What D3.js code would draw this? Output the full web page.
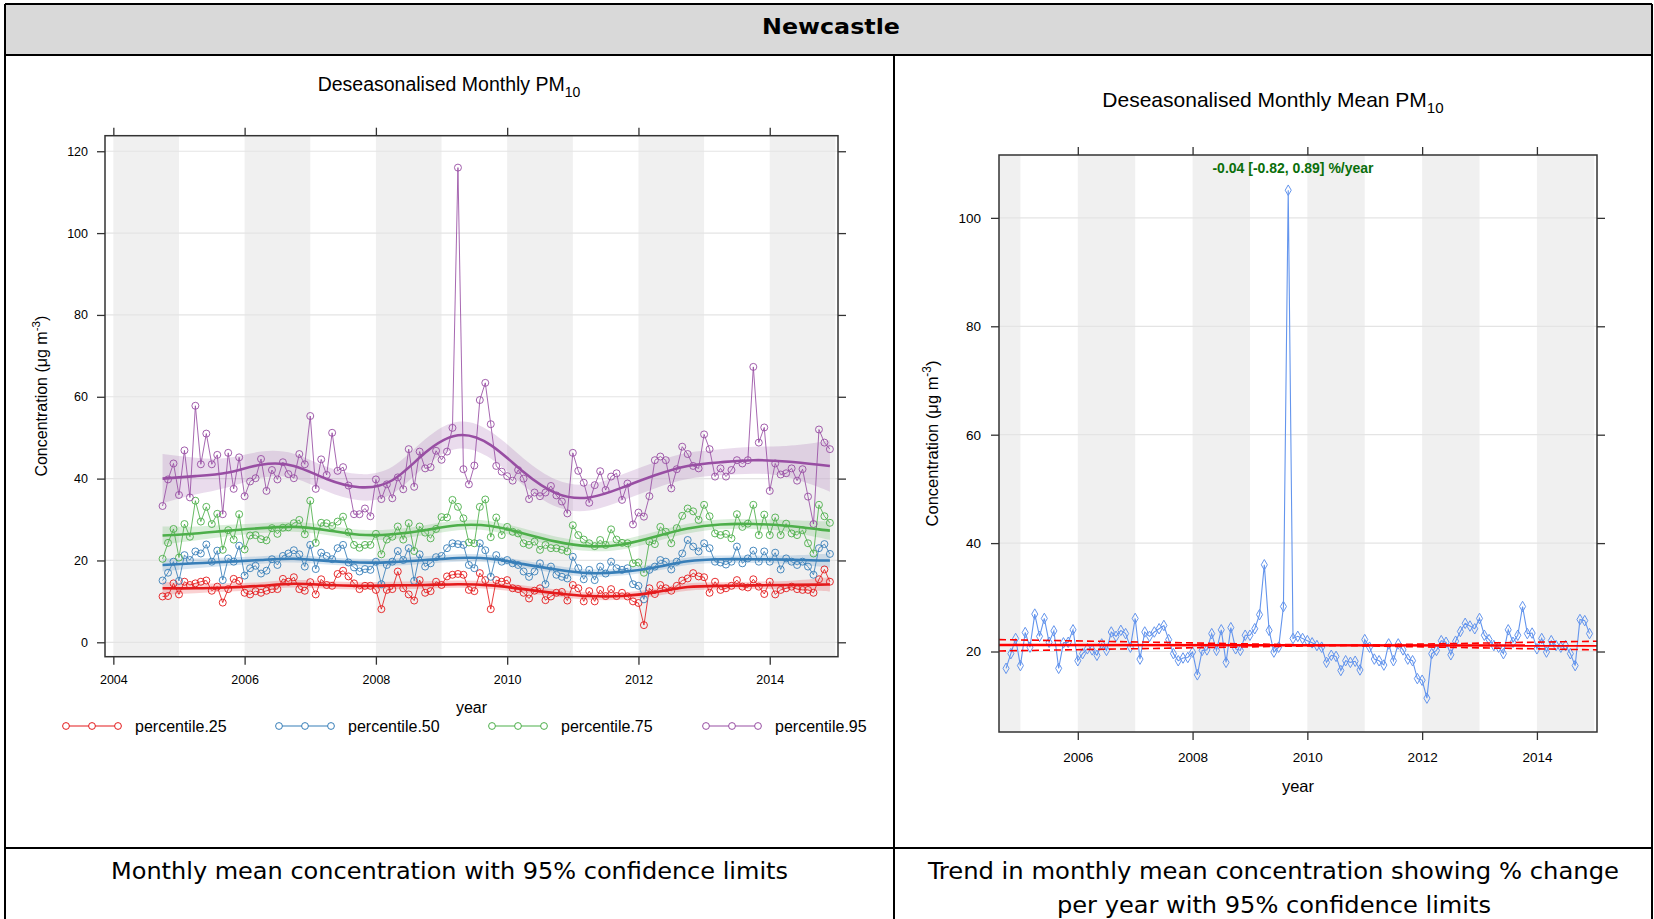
<!DOCTYPE html>
<html><head><meta charset="utf-8">
<script src="https://cdn.jsdelivr.net/npm/d3@7"></script>
<style>body{margin:0;background:#fff}svg{display:block}</style>
</head><body>
<svg id="c" width="1654" height="919"></svg>
<script>
// ---------------- data ----------------
const firstYear = 2004, firstMonth = 10;   // first monthly value: Oct 2004
const seriesNames = ["percentile.25","percentile.50","percentile.75","percentile.95"];
const seriesColors = ["#E41A1C","#377EB8","#4DAF4A","#984EA3"];

const p25 = [11.2,11.3,14.4,11.7,14.8,14.0,14.4,14.8,15.1,12.6,13.6,9.7,13.0,15.5,15.0,12.1,11.7,12.5,12.1,12.6,
13.0,13.0,15.5,14.8,15.9,13.0,12.6,14.7,11.7,15.4,14.0,13.8,16.7,17.5,16.1,14.4,13.0,13.8,13.8,12.8,
8.1,12.8,13.0,17.3,13.2,11.7,10.2,15.2,12.1,12.5,14.8,14.0,16.1,16.5,16.7,16.5,12.8,12.5,16.9,15.2,
8.1,15.2,14.8,15.2,13.2,13.0,12.1,10.7,12.6,13.2,10.3,11.2,12.1,12.3,10.2,14.0,13.2,10.0,12.5,10.0,
12.8,11.3,13.0,11.3,12.1,11.2,10.0,9.6,4.2,13.2,11.8,14.0,13.2,12.6,13.8,15.1,15.6,16.9,16.1,15.9,
12.1,14.8,12.8,13.2,13.8,15.2,13.6,13.4,15.4,13.6,11.8,14.8,11.7,12.8,13.2,13.6,13.0,12.8,12.8,12.1,
15.4,17.8,14.8];
const p50 = [15.1,17.0,19.7,15.0,21.3,20.1,22.2,21.7,23.9,19.7,22.4,15.2,20.5,19.7,23.6,16.3,18.1,18.7,16.8,17.5,
20.3,18.9,21.1,21.7,22.5,21.5,18.5,23.8,17.9,21.9,21.1,20.3,23.0,23.8,19.5,18.3,17.3,17.9,17.7,19.7,
14.2,18.9,19.7,22.3,20.1,23.0,15.0,21.5,18.5,19.3,20.8,21.1,23.0,24.2,24.0,23.8,18.9,18.1,24.2,22.5,
16.0,21.3,19.7,20.1,19.3,18.9,17.3,16.0,17.3,19.3,14.2,18.5,16.5,16.0,15.6,20.9,18.1,15.4,17.7,15.2,
18.5,16.8,19.7,18.1,17.7,18.1,14.2,13.8,10.5,17.7,18.5,20.1,19.7,17.8,19.7,21.7,25.0,23.4,22.2,24.2,
23.0,19.7,19.5,19.0,19.7,23.4,19.3,20.5,22.4,19.7,22.2,19.7,21.9,17.8,20.5,19.7,18.9,19.7,18.5,16.5,
23.0,24.0,21.6];
const p75 = [20.4,24.3,27.7,20.7,28.9,25.8,34.6,29.5,33.1,28.9,31.4,22.6,27.4,25.1,31.3,22.7,26.1,26.2,25.2,24.9,
27.9,26.5,28.0,28.1,29.1,29.9,26.4,34.6,24.3,29.2,29.1,28.4,29.5,30.7,26.9,23.8,23.1,23.8,23.8,26.5,
21.5,25.1,25.8,28.3,25.1,29.1,22.3,28.3,26.8,25.4,27.7,30.6,30.5,34.8,33.1,30.3,24.4,24.2,33.1,34.9,
25.7,30.5,26.2,28.2,27.0,26.6,24.2,23.8,24.6,22.6,23.8,23.0,23.0,22.6,22.2,28.6,26.2,25.1,24.2,23.5,
25.0,23.8,27.6,25.1,24.3,24.2,19.3,19.5,17.0,24.6,24.0,28.2,27.0,24.2,27.9,30.9,32.7,32.0,29.9,33.6,
30.8,26.6,26.2,26.5,25.4,31.3,28.2,29.0,33.6,26.2,31.2,26.2,30.5,26.2,29.0,26.6,26.2,27.4,24.2,21.7,
33.6,30.8,29.2];
const p95 = [33.3,39.8,43.7,36.0,46.9,35.4,57.8,43.5,51.0,43.5,45.8,31.3,46.3,37.5,45.2,35.7,39.3,40.1,44.8,37.0,
42.1,39.8,44.0,41.1,40.1,46.0,43.5,55.3,37.5,44.7,40.9,51.2,41.9,42.8,38.3,31.3,31.3,32.7,30.8,39.8,
35.0,38.6,35.2,40.3,37.4,47.2,38.0,46.6,42.5,42.8,46.8,44.6,46.6,52.4,116.0,42.3,38.6,43.2,59.2,63.4,
53.3,43.1,41.7,40.6,39.5,42.1,40.0,35.0,36.6,35.7,36.6,38.2,35.9,34.4,31.5,46.3,41.9,39.0,34.1,38.4,
41.8,37.2,40.5,41.3,34.8,38.8,28.8,31.7,30.7,35.7,44.5,45.4,44.5,37.6,42.3,47.8,46.0,43.1,42.5,50.8,
47.2,40.5,42.5,40.5,42.1,44.5,43.7,44.5,67.3,48.8,52.5,37.0,43.7,41.0,41.3,42.5,39.5,42.3,35.6,28.9,
52.0,48.8,47.2];

// smooth fits (value at month index) and half-width of 95% band
const smoothIdx = [0,6,12,18,24,30,36,42,48,54,60,66,72,78,84,90,96,102,108,114,120,122];
const p25Smooth = [13.2,13.2,13.4,13.8,14.3,14.0,13.8,13.9,14.0,14.2,13.9,13.0,12.0,11.3,11.3,12.2,13.5,13.8,13.9,14.0,14.1,14.2];
const p50Smooth = [18.9,19.3,19.7,20.1,20.4,19.9,19.5,19.6,20.1,20.6,20.4,19.1,17.8,16.9,17.2,18.3,19.8,20.3,20.3,20.2,20.0,20.0];
const p75Smooth = [26.1,26.6,27.3,27.9,28.2,27.4,26.3,26.4,27.4,28.6,28.4,26.6,24.6,23.5,23.9,25.8,27.8,28.8,28.9,28.5,27.6,27.3];
const p95Smooth = [40.0,40.6,41.5,43.4,43.1,39.9,37.9,39.6,46.3,50.6,48.2,41.6,36.4,35.4,37.8,40.8,43.1,44.0,44.5,44.2,43.4,43.1];
const p25Band = [1.6,1.2,1.0,0.9,0.9,0.9,0.9,0.9,0.9,0.9,0.9,0.9,0.9,0.9,0.9,0.9,0.9,0.9,0.9,1.0,1.5,1.8];
const p50Band = [1.6,1.2,1.0,0.9,0.9,0.9,0.9,0.9,0.9,0.9,0.9,0.9,0.9,0.9,0.9,0.9,0.9,0.9,0.9,1.0,1.5,1.8];
const p75Band = [2.2,1.7,1.4,1.2,1.2,1.2,1.2,1.2,1.2,1.2,1.2,1.2,1.2,1.2,1.2,1.2,1.2,1.2,1.2,1.4,2.0,2.3];
const p95Band = [6.0,4.5,3.6,3.2,3.0,3.0,3.2,3.3,3.3,3.3,3.3,3.3,3.3,3.2,3.2,3.2,3.2,3.2,3.3,3.8,5.5,6.3];

// deseasonalised monthly mean (right panel)
const meanPM10 = [16.9,19.6,22.4,17.4,23.5,20.8,26.9,22.8,26.1,21.7,23.8,16.9,21.6,21.7,24.0,18.3,19.6,20.5,20.3,19.3,
21.4,20.2,23.6,22.8,23.9,23.3,20.8,26.1,18.6,23.6,22.8,23.6,24.2,24.8,22.2,19.6,18.3,18.8,18.9,19.9,
15.7,20.2,20.3,23.3,20.2,24.0,18.0,24.4,20.5,20.2,23.0,23.0,24.2,26.8,36.0,23.9,19.9,20.8,28.3,105.1,
22.4,22.8,22.4,22.0,21.6,21.1,20.8,18.0,19.3,19.1,16.5,18.3,18.0,18.2,16.6,22.2,20.8,18.6,18.3,17.5,
21.4,18.3,21.4,20.3,18.6,18.3,15.0,14.7,11.4,19.6,20.2,22.0,21.7,19.4,21.9,23.7,25.2,24.7,24.2,26.1,
23.0,22.2,21.1,20.8,19.6,24.0,21.7,23.0,28.3,23.3,23.4,20.5,22.4,19.9,22.0,21.1,20.8,21.1,19.6,17.4,
25.9,25.7,23.3];
// Theil-Sen trend line and 95% limits at the panel ends
const trendYears = [2004.627, 2015.047];
const trendMid   = [21.2, 21.1];
const trendCiA   = [22.2, 20.3];
const trendCiB   = [20.1, 21.9];
const trendLabel = "-0.04 [-0.82, 0.89] %/year";

const yearTicks = [2004,2006,2008,2010,2012,2014];
const yearTicksR = [2006,2008,2010,2012,2014];
const concTicksL = [0,20,40,60,80,100,120];
const concTicksR = [20,40,60,80,100];

const headerText = "Newcastle";
const captionL = "Monthly mean concentration with 95% confidence limits";
const captionR1 = "Trend in monthly mean concentration showing % change";
const captionR2 = "per year with 95% confidence limits";

// ---------------- drawing ----------------
const svg = d3.select("#c");
const tOf = i => firstYear + (firstMonth - 1) / 12 + i / 12;
const AX = "#333";
const FONT = "'Liberation Sans', Arial, sans-serif";
const VFONT = "'DejaVu Sans', Verdana, sans-serif";
const CFONT = "'DejaVu Sans Condensed', 'DejaVu Sans', Verdana, sans-serif";

// table frame
svg.append("rect").attr("x",5).attr("y",4).attr("width",1647).attr("height",51).attr("fill","#d9d9d9");
const frame = svg.append("g").attr("stroke","#000").attr("stroke-width",2);
[[5,4,1652,4],[5,55,1652,55],[5,848,1652,848],[5,4,5,919],[1652,4,1652,919],[894,55,894,919]]
  .forEach(d => frame.append("line").attr("x1",d[0]).attr("y1",d[1]).attr("x2",d[2]).attr("y2",d[3]));

svg.append("text").attr("x",831).attr("y",34).attr("text-anchor","middle")
  .attr("font-family",VFONT).attr("font-weight","bold").attr("font-size",22)
  .attr("textLength",138).attr("lengthAdjust","spacingAndGlyphs").text(headerText);
svg.append("text").attr("x",449.5).attr("y",879).attr("text-anchor","middle")
  .attr("font-family",CFONT).attr("font-size",23).attr("textLength",677).attr("lengthAdjust","spacingAndGlyphs").text(captionL);
svg.append("text").attr("x",1273.5).attr("y",879).attr("text-anchor","middle")
  .attr("font-family",CFONT).attr("font-size",23).attr("textLength",691).attr("lengthAdjust","spacingAndGlyphs").text(captionR1);
svg.append("text").attr("x",1274).attr("y",913).attr("text-anchor","middle")
  .attr("font-family",CFONT).attr("font-size",23).attr("textLength",434).attr("lengthAdjust","spacingAndGlyphs").text(captionR2);

function panel(o) {
  const x = d3.scaleLinear().domain(o.xdom).range([o.x0, o.x1]);
  const y = d3.scaleLinear().domain(o.ydom).range([o.y1, o.y0]);
  const g = svg.append("g");
  const clipId = "clip" + o.id;
  svg.append("clipPath").attr("id", clipId).append("rect")
    .attr("x", o.x0).attr("y", o.y0).attr("width", o.x1 - o.x0).attr("height", o.y1 - o.y0);
  const inner = g.append("g").attr("clip-path", `url(#${clipId})`);
  // alternate year bands
  d3.range(2004, 2016, 2).forEach(yr => {
    inner.append("rect").attr("x", x(yr)).attr("y", o.y0).attr("width", x(yr + 1) - x(yr))
      .attr("height", o.y1 - o.y0).attr("fill", "#f0f0f0");
  });
  // horizontal grid
  o.yticks.forEach(v => inner.append("line").attr("x1", o.x0).attr("x2", o.x1)
    .attr("y1", y(v)).attr("y2", y(v)).attr("stroke", "#e4e4e4").attr("stroke-width", 1.2));
  // axes
  const mk = (ax, tr) => g.append("g").attr("transform", tr).call(ax)
    .call(s => s.select(".domain").remove())
    .call(s => s.selectAll("line").attr("stroke", AX).attr("stroke-width", 1.3))
    .call(s => s.selectAll("text").attr("font-family", FONT).attr("font-size", o.tickFont).attr("fill", "#000"));
  mk(d3.axisLeft(y).tickValues(o.yticks).tickSize(8).tickPadding(o.ypad).tickFormat(d3.format("d")), `translate(${o.x0},0)`);
  mk(d3.axisRight(y).tickValues(o.yticks).tickSize(8).tickFormat(""), `translate(${o.x1},0)`);
  mk(d3.axisBottom(x).tickValues(o.xticks).tickSize(8).tickPadding(o.xpad).tickFormat(d3.format("d")), `translate(0,${o.y1})`);
  mk(d3.axisTop(x).tickValues(o.xticks).tickSize(8).tickFormat(""), `translate(0,${o.y0})`);
  g.append("rect").attr("x", o.x0).attr("y", o.y0).attr("width", o.x1 - o.x0).attr("height", o.y1 - o.y0)
    .attr("fill", "none").attr("stroke", AX).attr("stroke-width", 1.5);
  // title
  const tt = g.append("text").attr("x", o.titleX).attr("y", o.titleY).attr("text-anchor", "middle")
    .attr("font-family", FONT).attr("font-size", o.titleFont).attr("fill", "#000");
  tt.append("tspan").text(o.title);
  tt.append("tspan").attr("dy", o.titleFont * 0.3).attr("font-size", o.titleFont * 0.72).text("10");
  // y label
  const yl = g.append("text").attr("transform", `translate(${o.ylabX},${(o.y0 + o.y1) / 2}) rotate(-90)`)
    .attr("text-anchor", "middle").attr("font-family", FONT).attr("font-size", o.labFont).attr("fill", "#000");
  yl.append("tspan").text("Concentration (\u03BCg m");
  yl.append("tspan").attr("dy", -o.labFont * 0.45).attr("font-size", o.labFont * 0.72).text("-3");
  yl.append("tspan").attr("dy", o.labFont * 0.45).text(")");
  // x label
  g.append("text").attr("x", (o.x0 + o.x1) / 2).attr("y", o.xlabY).attr("text-anchor", "middle")
    .attr("font-family", FONT).attr("font-size", o.labFont).attr("fill", "#000").text("year");
  return {x, y, g, inner};
}

// ---- left panel ----
const L = panel({id:"L", x0:105, x1:838, y0:135.7, y1:656.7, xdom:[2003.873, 2015.04], ydom:[-3.52, 123.8],
  yticks:concTicksL, xticks:yearTicks, tickFont:12.5, ypad:9, xpad:10, titleX:449, titleY:91, titleFont:19.5,
  title:"Deseasonalised Monthly PM", ylabX:47, labFont:16, xlabY:713});

const pct = [p25, p50, p75, p95];
const smooths = [p25Smooth, p50Smooth, p75Smooth, p95Smooth];
const bands = [p25Band, p50Band, p75Band, p95Band];
pct.forEach((vals, k) => {
  const col = seriesColors[k];
  const knots = smoothIdx.map((i, j) => ({t: tOf(i), v: smooths[k][j], h: bands[k][j]}));
  L.inner.append("path").datum(knots)
    .attr("d", d3.area().curve(d3.curveNatural).x(d => L.x(d.t)).y0(d => L.y(d.v - d.h)).y1(d => L.y(d.v + d.h)))
    .attr("fill", col).attr("fill-opacity", 0.2);
});
pct.forEach((vals, k) => {
  const col = seriesColors[k];
  const pts = vals.map((v, i) => ({t: tOf(i), v}));
  L.inner.append("path").datum(pts).attr("d", d3.line().x(d => L.x(d.t)).y(d => L.y(d.v)))
    .attr("fill", "none").attr("stroke", col).attr("stroke-width", 1).attr("stroke-opacity", 0.85);
  L.inner.selectAll(null).data(pts).join("circle").attr("cx", d => L.x(d.t)).attr("cy", d => L.y(d.v))
    .attr("r", 3.5).attr("fill", "none").attr("stroke", col).attr("stroke-width", 1).attr("stroke-opacity", 0.9);
});
pct.forEach((vals, k) => {
  const knots = smoothIdx.map((i, j) => ({t: tOf(i), v: smooths[k][j]}));
  L.inner.append("path").datum(knots)
    .attr("d", d3.line().curve(d3.curveNatural).x(d => L.x(d.t)).y(d => L.y(d.v)))
    .attr("fill", "none").attr("stroke", seriesColors[k]).attr("stroke-width", 2.6);
});
// legend
const legX = [66, 279, 492, 706];
seriesNames.forEach((nm, k) => {
  const lg = svg.append("g").attr("transform", `translate(${legX[k]},726)`);
  lg.append("line").attr("x1", 0).attr("x2", 52).attr("stroke", seriesColors[k]).attr("stroke-width", 1.2);
  [0, 26, 52].forEach(cx => lg.append("circle").attr("cx", cx).attr("r", 3.4)
    .attr("fill", "#fff").attr("stroke", seriesColors[k]).attr("stroke-width", 1));
  lg.append("text").attr("x", 69).attr("y", 5.5).attr("font-family", FONT).attr("font-size", 16).text(nm);
});

// ---- right panel ----
const R = panel({id:"R", x0:999, x1:1597, y0:155, y1:732, xdom:[2004.627, 2015.047], ydom:[5.15, 111.6],
  yticks:concTicksR, xticks:yearTicksR, tickFont:13.5, ypad:10, xpad:12, titleX:1273, titleY:106.5, titleFont:21,
  title:"Deseasonalised Monthly Mean PM", ylabX:938, labFont:16.5, xlabY:792});

const mpts = meanPM10.map((v, i) => ({t: tOf(i), v}));
R.inner.append("path").datum(mpts).attr("d", d3.line().x(d => R.x(d.t)).y(d => R.y(d.v)))
  .attr("fill", "none").attr("stroke", "#6495ED").attr("stroke-width", 1.1);
R.inner.selectAll(null).data(mpts).join("path")
  .attr("d", d3.symbol(d3.symbolDiamond, 32))
  .attr("transform", d => `translate(${R.x(d.t)},${R.y(d.v)})`)
  .attr("fill", "none").attr("stroke", "#6495ED").attr("stroke-width", 1);
const tl = d3.line().x(d => R.x(d[0])).y(d => R.y(d[1]));
[trendCiA, trendCiB].forEach(ci => {
  R.inner.append("path").datum(trendYears.map((t, j) => [t, ci[j]])).attr("d", tl)
    .attr("fill", "none").attr("stroke", "#FF0000").attr("stroke-width", 1.6).attr("stroke-dasharray", "7,4");
});
R.inner.append("path").datum(trendYears.map((t, j) => [t, trendMid[j]])).attr("d", tl)
  .attr("fill", "none").attr("stroke", "#FF0000").attr("stroke-width", 2.6);
R.g.append("text").attr("x", 1293).attr("y", 173).attr("text-anchor", "middle")
  .attr("font-family", FONT).attr("font-weight", "bold").attr("font-size", 14)
  .attr("fill", "#0a6e0a").text(trendLabel);
</script>
</body></html>
